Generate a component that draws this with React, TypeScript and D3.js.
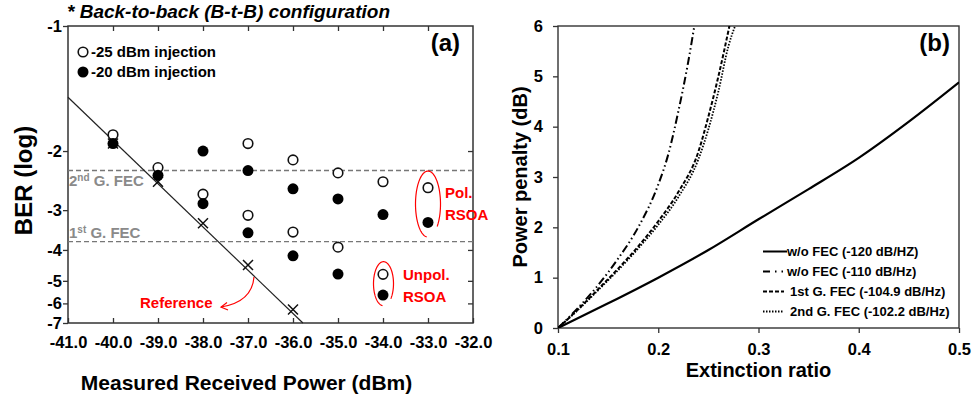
import { useEffect, useRef } from "react"
import * as d3 from "d3"

// ---------- panel (a) data ----------
const powerTicks = [-41, -40, -39, -38, -37, -36, -35, -34, -33, -32]
const berTicks = [-1, -2, -3, -4, -5, -6, -7]
// relative position of each BER tick on the (non-linear) vertical axis
const berTickFrac = [0, 0.421, 0.62, 0.754, 0.858, 0.934, 1]

const polOpenPower = [-37, -36, -35, -34, -33]
const polOpenBer = [-1.94, -2.15, -2.37, -2.52, -2.62]
const polFilledPower = [-38, -37, -36, -35, -34, -33]
const polFilledBer = [-2.0, -2.33, -2.64, -2.81, -3.11, -3.31]

const unpolOpenPower = [-40, -39, -38, -37, -36, -35]
const unpolOpenBer = [-1.87, -2.28, -2.73, -3.13, -3.55, -3.93]
const unpolFilledPower = [-40, -39, -38, -37, -36, -35]
const unpolFilledBer = [-1.94, -2.41, -2.89, -3.57, -4.19, -4.78]

// markers inside the "Unpol. RSOA" bracket
const unpolKeyPower = -34
const unpolKeyOpenBer = -4.79
const unpolKeyFilledBer = -5.63

const refPower = [-40, -39, -38, -37, -36]
const refBer = [-1.94, -2.52, -3.33, -4.49, -6.31]
const refLinePower = [-41, -35.78]
const refLineBer = [-1.57, -7]

const fec2Ber = -2.33
const fec1Ber = -3.79

// ---------- panel (b) data ----------
const erTicks = [0.1, 0.2, 0.3, 0.4, 0.5]
const ppTicks = [0, 1, 2, 3, 4, 5, 6]

const er120 = [0.1, 0.15, 0.2, 0.25, 0.3, 0.35, 0.4, 0.45, 0.5]
const pp120 = [0, 0.49, 1.0, 1.55, 2.16, 2.76, 3.38, 4.1, 4.88]

const er110 = [0.1, 0.12, 0.14, 0.16, 0.18, 0.2, 0.21, 0.22, 0.23, 0.236]
const pp110 = [0, 0.4, 0.85, 1.38, 2.0, 2.85, 3.45, 4.3, 5.3, 6.0]

const er1st = [0.1, 0.12, 0.14, 0.16, 0.18, 0.2, 0.22, 0.24, 0.25, 0.26, 0.271]
const pp1st = [0, 0.37, 0.77, 1.18, 1.62, 2.12, 2.7, 3.5, 4.2, 5.0, 6.0]

const er2nd = [0.1, 0.12, 0.14, 0.16, 0.18, 0.2, 0.22, 0.24, 0.25, 0.26, 0.27, 0.2766]
const pp2nd = [0, 0.36, 0.75, 1.15, 1.58, 2.05, 2.6, 3.35, 3.95, 4.7, 5.6, 6.0]

const legendLabels = [
  "w/o FEC (-120 dB/HZ)",
  "w/o FEC (-110 dB/Hz)",
  "1st G. FEC (-104.9 dB/Hz)",
  "2nd G. FEC (-102.2 dB/Hz)",
]
const dashes = ["none", "8,3,1.5,3,1.5,3", "4,2", "1.5,1.5"]

const FONT = "'Liberation Sans', Arial, Helvetica, sans-serif"

export default function App() {
  const svgRef = useRef<SVGSVGElement>(null)

  useEffect(() => {
    if (!svgRef.current) return
    const svg = d3.select(svgRef.current)
    svg.selectAll("*").remove()
    svg.style("font-family", FONT).style("font-weight", "bold")

    // ================= panel (a) =================
    const a = { left: 68, right: 473, top: 26, bottom: 323 }
    const xA = d3.scaleLinear().domain([-41, -32]).range([a.left, a.right])
    const yA = d3
      .scaleLinear()
      .domain(berTicks)
      .range(berTickFrac.map((f) => a.top + f * (a.bottom - a.top)))

    const ga = svg.append("g")

    // title
    ga.append("text")
      .attr("x", 67)
      .attr("y", 18)
      .style("font-size", "19px")
      .style("font-style", "italic")
      .text("* Back-to-back (B-t-B) configuration")

    // axes
    const axBottom = ga
      .append("g")
      .attr("transform", `translate(0,${a.bottom})`)
      .call(
        d3
          .axisBottom(xA)
          .tickValues(powerTicks)
          .tickSize(-5)
          .tickPadding(13)
          .tickFormat((d) => (d as number).toFixed(1)),
      )
    const axTop = ga
      .append("g")
      .attr("transform", `translate(0,${a.top})`)
      .call(d3.axisTop(xA).tickValues(powerTicks.slice(1, -1)).tickSize(-5).tickFormat(() => ""))
    const axLeft = ga
      .append("g")
      .attr("transform", `translate(${a.left},0)`)
      .call(
        d3
          .axisLeft(yA)
          .tickValues(berTicks)
          .tickSize(5)
          .tickPadding(1)
          .tickFormat((d) => String(d)),
      )
    const axRight = ga
      .append("g")
      .attr("transform", `translate(${a.right},0)`)
      .call(d3.axisRight(yA).tickValues(berTicks.slice(1, -1)).tickSize(-5).tickFormat(() => ""))
    ;[axBottom, axTop, axLeft, axRight].forEach((ax) => {
      ax.select(".domain").remove()
      ax.selectAll("line").attr("stroke", "#333").attr("stroke-width", 1.3)
      ax.selectAll("text")
        .attr("fill", "#000")
        .style("font-family", FONT)
        .style("font-weight", "bold")
        .style("font-size", "16.5px")
    })

    ga.append("rect")
      .attr("x", a.left)
      .attr("y", a.top)
      .attr("width", a.right - a.left)
      .attr("height", a.bottom - a.top)
      .attr("fill", "none")
      .attr("stroke", "#333")
      .attr("stroke-width", 1.5)

    // axis labels
    ga.append("text")
      .attr("transform", `translate(${(a.left + a.right) / 2 - 24},390) `)
      .style("text-anchor", "middle")
      .style("font-size", "21px")
      .text("Measured Received Power (dBm)")

    ga.append("text")
      .attr("transform", `translate(32,${(a.top + a.bottom) / 2 + 6}) rotate(-90)`)
      .style("text-anchor", "middle")
      .style("font-size", "24px")
      .text("BER (log)")

    // FEC thresholds
    ;[fec2Ber, fec1Ber].forEach((b) => {
      ga.append("line")
        .attr("x1", a.left)
        .attr("x2", a.right)
        .attr("y1", yA(b))
        .attr("y2", yA(b))
        .attr("stroke", "#777")
        .attr("stroke-width", 1.4)
        .attr("stroke-dasharray", "5,3")
    })
    const fecLabel = (y: number, num: string, sup: string) => {
      const t = ga.append("text").attr("x", 69).attr("y", y).attr("fill", "#8a8a8a").style("font-size", "15px")
      t.append("tspan").text(num)
      t.append("tspan").attr("dy", -5).style("font-size", "10px").text(sup)
      t.append("tspan").attr("dy", 5).text(" G. FEC")
    }
    fecLabel(yA(fec2Ber) + 15, "2", "nd")
    fecLabel(yA(fec1Ber) - 4, "1", "st")

    // reference line + crosses
    const refLine = d3
      .line<number>()
      .x((d, i) => xA(refLinePower[i]))
      .y((d) => yA(d))
    ga.append("path")
      .datum(refLineBer)
      .attr("d", refLine)
      .attr("fill", "none")
      .attr("stroke", "#222")
      .attr("stroke-width", 1.2)

    const cross = d3.path()
    refPower.forEach((p, i) => {
      const cx = xA(p)
      const cy = yA(refBer[i])
      cross.moveTo(cx - 5, cy - 5)
      cross.lineTo(cx + 5, cy + 5)
      cross.moveTo(cx + 5, cy - 5)
      cross.lineTo(cx - 5, cy + 5)
    })
    ga.append("path").attr("d", cross.toString()).attr("stroke", "#111").attr("stroke-width", 1.5)

    // markers
    const openPts = [
      ...polOpenPower.map((p, i) => [p, polOpenBer[i]]),
      ...unpolOpenPower.map((p, i) => [p, unpolOpenBer[i]]),
      [unpolKeyPower, unpolKeyOpenBer],
    ]
    const filledPts = [
      ...polFilledPower.map((p, i) => [p, polFilledBer[i]]),
      ...unpolFilledPower.map((p, i) => [p, unpolFilledBer[i]]),
      [unpolKeyPower, unpolKeyFilledBer],
    ]
    ga.selectAll(".open")
      .data(openPts)
      .join("circle")
      .attr("cx", (d) => xA(d[0]))
      .attr("cy", (d) => yA(d[1]))
      .attr("r", 4.8)
      .attr("fill", "#fff")
      .attr("stroke", "#111")
      .attr("stroke-width", 1.6)
    ga.selectAll(".filled")
      .data(filledPts)
      .join("circle")
      .attr("cx", (d) => xA(d[0]))
      .attr("cy", (d) => yA(d[1]))
      .attr("r", 5.5)
      .attr("fill", "#000")

    // legend
    ga.append("circle").attr("cx", 83).attr("cy", 52).attr("r", 4.8).attr("fill", "#fff").attr("stroke", "#111").attr("stroke-width", 1.6)
    ga.append("circle").attr("cx", 83).attr("cy", 72).attr("r", 5.5).attr("fill", "#000")
    ga.append("text").attr("x", 91).attr("y", 57).style("font-size", "15px").text("-25 dBm injection")
    ga.append("text").attr("x", 91).attr("y", 77).style("font-size", "15px").text("-20 dBm injection")

    ga.append("text")
      .attr("x", 460)
      .attr("y", 51)
      .style("text-anchor", "end")
      .style("font-size", "24px")
      .text("(a)")

    // red annotations
    const red = "#ff0000"
    // open ellipse bracket, gap at the lower right
    const bracket = (cx: number, cy: number, rx: number, ry: number) => {
      const pts = d3
        .range(Math.PI / 2 + 0.1, 2 * Math.PI + 0.75, 0.04)
        .map((t) => [cx + rx * Math.cos(t), cy + ry * Math.sin(t)] as [number, number])
      ga.append("path")
        .attr("d", d3.line()(pts))
        .attr("fill", "none")
        .attr("stroke", red)
        .attr("stroke-width", 1.2)
    }
    bracket(xA(-33), (yA(polOpenBer[4]) + yA(polFilledBer[5])) / 2 - 1, 12.5, 33)
    bracket(xA(unpolKeyPower) + 0.5, (yA(unpolKeyOpenBer) + yA(unpolKeyFilledBer)) / 2 - 1, 10, 22)

    ga.append("text").attr("x", 445).attr("y", 198).attr("fill", red).style("font-size", "15px").text("Pol.")
    ga.append("text").attr("x", 445).attr("y", 220).attr("fill", red).style("font-size", "15px").text("RSOA")
    ga.append("text").attr("x", 403).attr("y", 280).attr("fill", red).style("font-size", "15px").text("Unpol.")
    ga.append("text").attr("x", 403).attr("y", 302).attr("fill", red).style("font-size", "15px").text("RSOA")
    ga.append("text").attr("x", 140).attr("y", 308).attr("fill", red).style("font-size", "15px").text("Reference")

    const arrow = d3.path()
    arrow.moveTo(254, 277)
    arrow.quadraticCurveTo(252, 302, 221, 307)
    ga.append("path").attr("d", arrow.toString()).attr("fill", "none").attr("stroke", red).attr("stroke-width", 1.2)
    const head = d3.path()
    head.moveTo(227, 302.5)
    head.lineTo(221, 307)
    head.lineTo(228, 310)
    ga.append("path").attr("d", head.toString()).attr("fill", "none").attr("stroke", red).attr("stroke-width", 1.2)

    // ================= panel (b) =================
    const b = { left: 558, right: 959, top: 26, bottom: 328 }
    const xB = d3.scaleLinear().domain([0.1, 0.5]).range([b.left, b.right])
    const yB = d3.scaleLinear().domain([0, 6]).range([b.bottom, b.top])
    const gb = svg.append("g")

    const bx = gb
      .append("g")
      .attr("transform", `translate(0,${b.bottom})`)
      .call(d3.axisBottom(xB).tickValues(erTicks).tickSize(5).tickPadding(10).tickFormat((d) => String(d)))
    const by = gb
      .append("g")
      .attr("transform", `translate(${b.left},0)`)
      .call(d3.axisLeft(yB).tickValues(ppTicks).tickSize(5).tickPadding(10).tickFormat((d) => String(d)))
    ;[bx, by].forEach((ax) => {
      ax.select(".domain").remove()
      ax.selectAll("line").attr("stroke", "#333").attr("stroke-width", 1.3)
      ax.selectAll("text")
        .attr("fill", "#000")
        .style("font-family", FONT)
        .style("font-weight", "bold")
        .style("font-size", "16.5px")
    })
    gb.append("rect")
      .attr("x", b.left)
      .attr("y", b.top)
      .attr("width", b.right - b.left)
      .attr("height", b.bottom - b.top)
      .attr("fill", "none")
      .attr("stroke", "#333")
      .attr("stroke-width", 1.4)

    gb.append("text")
      .attr("x", (b.left + b.right) / 2)
      .attr("y", 377)
      .style("text-anchor", "middle")
      .style("font-size", "20px")
      .text("Extinction ratio")
    gb.append("text")
      .attr("transform", `translate(527,${(b.top + b.bottom) / 2}) rotate(-90)`)
      .style("text-anchor", "middle")
      .style("font-size", "20px")
      .text("Power penalty (dB)")
    gb.append("text")
      .attr("x", 950)
      .attr("y", 51)
      .style("text-anchor", "end")
      .style("font-size", "24px")
      .text("(b)")

    gb.append("clipPath")
      .attr("id", "clipB")
      .append("rect")
      .attr("x", b.left)
      .attr("y", b.top)
      .attr("width", b.right - b.left)
      .attr("height", b.bottom - b.top)

    const series = [
      { x: er120, y: pp120, w: 2.2 },
      { x: er110, y: pp110, w: 2 },
      { x: er1st, y: pp1st, w: 2 },
      { x: er2nd, y: pp2nd, w: 1.8 },
    ]
    series.forEach((s, k) => {
      const line = d3
        .line<number>()
        .x((d, i) => xB(s.x[i]))
        .y((d) => yB(d))
        .curve(d3.curveMonotoneX)
      gb.append("path")
        .datum(s.y)
        .attr("clip-path", "url(#clipB)")
        .attr("d", line)
        .attr("fill", "none")
        .attr("stroke", "#000")
        .attr("stroke-width", s.w)
        .attr("stroke-dasharray", dashes[k])
    })

    // legend
    const lg = gb.append("g").attr("transform", "translate(763,256)")
    legendLabels.forEach((lab, i) => {
      const row = lg.append("g").attr("transform", `translate(0,${i * 20})`)
      row.append("line")
        .attr("x1", 0)
        .attr("x2", i === 0 ? 24 : 21)
        .attr("y1", -4.5)
        .attr("y2", -4.5)
        .attr("stroke", "#000")
        .attr("stroke-width", 2)
        .attr("stroke-dasharray", i === 1 ? "7,5,1.5,5,1.5,5" : dashes[i])
      row.append("text")
        .attr("x", i < 2 ? 24 : 27)
        .attr("y", 0)
        .style("font-size", "13px")
        .text(lab)
    })
  }, [])

  return (
    <svg
      ref={svgRef}
      width={974}
      height={398}
      style={{ position: "absolute", left: 0, top: 0, background: "#fff" }}
    />
  )
}
